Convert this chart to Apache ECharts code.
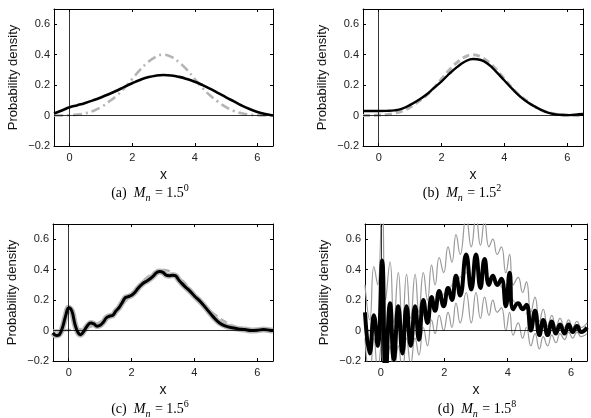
<!DOCTYPE html>
<html>
<head>
<meta charset="utf-8">
<script src="https://cdn.jsdelivr.net/npm/echarts@6/dist/echarts.min.js"></script>
<style>
  html, body { margin: 0; padding: 0; background: #fff; }
  #chart { width: 591px; height: 418px; }
</style>
</head>
<body>
<div id="chart"></div>
<script>
// tick labels
var xTicks = [0, 2, 4, 6]
var yTicks = [-0.2, 0, 0.2, 0.4, 0.6]

// shared x grid for the smooth panels (a) and (b)
var gridX = [-0.5, -0.25, 0, 0.25, 0.5, 0.75, 1, 1.25, 1.5, 1.75, 2, 2.25, 2.5, 2.75, 3,
  3.25, 3.5, 3.75, 4, 4.25, 4.5, 4.75, 5, 5.25, 5.5, 5.75, 6, 6.25, 6.5]
// true density (grey dashed)
var truth = [0, 0, 0.003, 0.006, 0.015, 0.03, 0.055, 0.09, 0.13, 0.18, 0.24, 0.3, 0.35, 0.385, 0.4,
  0.385, 0.35, 0.3, 0.24, 0.18, 0.13, 0.09, 0.055, 0.03, 0.015, 0.006, 0.003, 0, 0]
// (a) M_n = 1.5^0
var aFit = [0.014, 0.033, 0.054, 0.068, 0.083, 0.1, 0.119, 0.14, 0.163, 0.188, 0.212, 0.234, 0.251, 0.262, 0.266,
  0.263, 0.254, 0.24, 0.222, 0.2, 0.175, 0.148, 0.12, 0.093, 0.066, 0.043, 0.024, 0.01, 0]
// (b) M_n = 1.5^2
var bFit = [0.03, 0.03, 0.03, 0.031, 0.034, 0.045, 0.07, 0.1, 0.135, 0.18, 0.225, 0.275, 0.32, 0.355, 0.372,
  0.365, 0.335, 0.285, 0.23, 0.175, 0.125, 0.085, 0.055, 0.03, 0.013, 0.005, 0.003, 0.006, 0.01]
// (c) M_n = 1.5^6
var cX = [-0.5, -0.4, -0.3, -0.2, -0.1, 0, 0.1, 0.2, 0.3, 0.38, 0.5, 0.6, 0.7, 0.8, 0.9, 1.0, 1.1, 1.2, 1.3, 1.4,
  1.5, 1.6, 1.7, 1.8, 1.9, 2.0, 2.1, 2.2, 2.3, 2.4, 2.5, 2.6, 2.7, 2.8, 2.9, 3.0, 3.1, 3.2, 3.3, 3.4,
  3.5, 3.6, 3.7, 3.8, 3.9, 4.0, 4.2, 4.4, 4.6, 4.8, 5.0, 5.2, 5.4, 5.6, 5.8, 6.0, 6.2, 6.4, 6.5]
var cFit = [-0.015, -0.033, -0.027, 0.018, 0.095, 0.15, 0.128, 0.04, -0.015, -0.027, 0.002, 0.033, 0.05, 0.044, 0.029,
  0.035, 0.055, 0.084, 0.095, 0.1, 0.128, 0.15, 0.183, 0.216, 0.223, 0.232, 0.25, 0.276, 0.298, 0.316,
  0.327, 0.342, 0.36, 0.382, 0.388, 0.382, 0.364, 0.36, 0.364, 0.36, 0.333, 0.31, 0.289, 0.27, 0.25,
  0.227, 0.188, 0.139, 0.09, 0.05, 0.029, 0.018, 0.011, 0.007, 0, 0.002, 0.007, 0.002, 0]
// (d) M_n = 1.5^8, peaks and troughs of the oscillating estimate and its bounds
var dX = [-0.5, -0.35, -0.22, -0.1, 0.04, 0.15, 0.29, 0.41, 0.55, 0.68, 0.81, 0.94, 1.08, 1.2, 1.34, 1.47,
  1.6, 1.71, 1.84, 1.98, 2.12, 2.24, 2.37, 2.5, 2.69, 2.85, 3.0, 3.14, 3.27, 3.41, 3.53, 3.67, 3.8, 3.94,
  4.06, 4.17, 4.33, 4.47, 4.59, 4.73, 4.86, 5.0, 5.12, 5.26, 5.39, 5.52, 5.65, 5.79, 5.92, 6.05, 6.18, 6.32, 6.5]
var dFit = [0.12, -0.15, 0.1, -0.1, 0.46, -0.32, 0.18, -0.19, 0.16, -0.15, 0.16, -0.1, 0.16, -0.06, 0.2, 0.05,
  0.22, 0.13, 0.26, 0.16, 0.28, 0.2, 0.36, 0.23, 0.5, 0.27, 0.5, 0.28, 0.47, 0.3, 0.36, 0.3, 0.34, 0.16,
  0.38, 0.14, 0.18, 0.14, 0.17, 0, 0.13, -0.03, 0.07, -0.03, 0.06, -0.02, 0.04, -0.02, 0.04, -0.01, 0.03, -0.01, 0.02]
var dUpper = [0.3, 0.07, 0.42, 0.3, 0.9, 0.2, 0.45, 0.05, 0.38, 0.02, 0.37, 0.08, 0.37, 0.12, 0.38, 0.2,
  0.43, 0.3, 0.48, 0.38, 0.55, 0.45, 0.63, 0.5, 0.75, 0.55, 0.75, 0.56, 0.72, 0.55, 0.6, 0.5, 0.55, 0.38,
  0.5, 0.3, 0.35, 0.25, 0.32, 0.12, 0.22, 0.06, 0.14, 0.03, 0.1, 0.02, 0.08, 0.02, 0.07, 0.02, 0.06, 0.02, 0.05]
var dLower = [-0.05, -0.3, -0.05, -0.25, -0.05, -0.4, -0.1, -0.3, -0.1, -0.28, -0.05, -0.22, -0.05, -0.16, 0.02, -0.1,
  0.07, -0.02, 0.1, 0, 0.12, 0.02, 0.18, 0.05, 0.25, 0.05, 0.25, 0.08, 0.22, 0.1, 0.2, 0.12, 0.15, 0,
  0.12, -0.03, 0.05, -0.05, 0.02, -0.1, -0.02, -0.12, -0.04, -0.1, -0.03, -0.08, -0.02, -0.06, -0.01, -0.05, -0.01, -0.04, -0.02]

function pairs (xs, ys) {
  return xs.map(function (x, i) { return [x, ys[i]] })
}

var panels = [
  { rect: { left: 54, top: 9, width: 219, height: 137 }, cap: 'a', exp: '0', capX: 150, capY: 193 },
  { rect: { left: 363, top: 9, width: 220, height: 137 }, cap: 'b', exp: '2', capX: 462, capY: 193 },
  { rect: { left: 53, top: 224, width: 220, height: 137 }, cap: 'c', exp: '6', capX: 150, capY: 409 },
  { rect: { left: 365, top: 224, width: 222, height: 137 }, cap: 'd', exp: '8', capX: 477, capY: 409 }
]

var sans = 'Liberation Sans, Arial, sans-serif'
var serif = 'Liberation Serif, serif'
var axisColor = '#000'

var grids = []
var xAxes = []
var yAxes = []
var graphics = []

panels.forEach(function (p, i) {
  grids.push(Object.assign({ containLabel: false }, p.rect))
  // bottom x axis with labels
  xAxes.push({
    type: 'value', gridIndex: i, position: 'bottom', min: -0.5, max: 6.5,
    name: 'x', nameLocation: 'middle', nameGap: 22,
    nameTextStyle: { fontFamily: sans, fontSize: 14, color: '#111' },
    axisLine: { onZero: false, lineStyle: { color: axisColor, width: 1 } },
    axisTick: { inside: true, length: 3, customValues: xTicks, lineStyle: { color: axisColor } },
    axisLabel: { customValues: xTicks, margin: 6, fontFamily: sans, fontSize: 11, color: '#222' },
    splitLine: { show: false }
  })
  // top x axis: box edge with ticks only
  xAxes.push({
    type: 'value', gridIndex: i, position: 'top', min: -0.5, max: 6.5,
    axisLine: { onZero: false, lineStyle: { color: axisColor, width: 1 } },
    axisTick: { inside: true, length: 3, customValues: xTicks, lineStyle: { color: axisColor } },
    axisLabel: { show: false },
    splitLine: { show: false }
  })
  yAxes.push({
    type: 'value', gridIndex: i, position: 'left', min: -0.2, max: 0.7,
    name: 'Probability density', nameLocation: 'middle', nameRotate: 90, nameGap: 34,
    nameTextStyle: { fontFamily: sans, fontSize: 13, color: '#111' },
    axisLine: { onZero: false, lineStyle: { color: axisColor, width: 1 } },
    axisTick: { inside: true, length: 3, customValues: yTicks, lineStyle: { color: axisColor } },
    axisLabel: {
      customValues: yTicks, margin: 4, fontFamily: sans, fontSize: 11, color: '#222',
      formatter: function (v) { return String(v).replace('-', '\u2212') }
    },
    splitLine: { show: false }
  })
  yAxes.push({
    type: 'value', gridIndex: i, position: 'right', min: -0.2, max: 0.7,
    axisLine: { onZero: false, lineStyle: { color: axisColor, width: 1 } },
    axisTick: { inside: true, length: 3, customValues: yTicks, lineStyle: { color: axisColor } },
    axisLabel: { show: false },
    splitLine: { show: false }
  })
  graphics.push({
    type: 'text', x: p.capX, y: p.capY,
    style: {
      text: '{n|(' + p.cap + ')  }{i|M}{s|n}{n| = 1.5}{p|' + p.exp + '}',
      align: 'center', verticalAlign: 'middle',
      rich: {
        n: { fontFamily: serif, fontSize: 14, color: '#111', lineHeight: 20, verticalAlign: 'middle' },
        i: { fontFamily: serif, fontStyle: 'italic', fontSize: 14, color: '#111', lineHeight: 20, verticalAlign: 'middle' },
        s: { fontFamily: serif, fontStyle: 'italic', fontSize: 10, color: '#111', lineHeight: 20, verticalAlign: 'bottom', padding: [0, 1, 0, 0] },
        p: { fontFamily: serif, fontSize: 10, color: '#111', lineHeight: 20, verticalAlign: 'top' }
      }
    }
  })
})

// thin reference lines at x = 0 and y = 0
function zeroLines () {
  return {
    silent: true, symbol: ['none', 'none'], label: { show: false }, animation: false,
    lineStyle: { color: '#000', width: 0.8, type: 'solid' },
    data: [{ xAxis: 0 }, { yAxis: 0 }]
  }
}

function line (panel, data, style, extra) {
  return Object.assign({
    type: 'line', xAxisIndex: panel * 2, yAxisIndex: panel * 2,
    data: data, showSymbol: false, symbol: 'none', smooth: true, animation: false,
    lineStyle: style
  }, extra || {})
}

var series = [
  // (a)
  line(0, pairs(gridX, truth), { color: '#b4b4b4', width: 2.6, type: [9, 4, 2, 4] }, { markLine: zeroLines(), z: 2 }),
  line(0, pairs(gridX, aFit), { color: '#000', width: 2.6 }, { z: 3 }),
  // (b)
  line(1, pairs(gridX, truth), { color: '#b4b4b4', width: 3, type: [7, 4] }, { markLine: zeroLines(), z: 2 }),
  line(1, pairs(gridX, bFit), { color: '#000', width: 2.4 }, { z: 3 }),
  // (c)
  line(2, pairs(gridX, truth), { color: '#b4b4b4', width: 2.5, type: [7, 4] }, { markLine: zeroLines(), z: 2 }),
  line(2, pairs(cX, cFit), { color: '#b8b8b8', width: 6 }, { smooth: 0.4, z: 3 }),
  line(2, pairs(cX, cFit), { color: '#000', width: 3 }, { smooth: 0.4, z: 4 }),
  // (d)
  line(3, pairs(gridX, truth), { color: '#c8c8c8', width: 2, type: [6, 4] }, { markLine: zeroLines(), z: 2 }),
  line(3, pairs(dX, dUpper), { color: '#9a9a9a', width: 1.2 }, { smooth: 0.5, z: 3 }),
  line(3, pairs(dX, dLower), { color: '#9a9a9a', width: 1.2 }, { smooth: 0.5, z: 3 }),
  line(3, pairs(dX, dFit), { color: '#000', width: 4 }, { smooth: 0.5, z: 4 })
]

var chart = echarts.init(document.getElementById('chart'), null, { renderer: 'canvas' })
chart.setOption({
  animation: false,
  backgroundColor: '#fff',
  grid: grids,
  xAxis: xAxes,
  yAxis: yAxes,
  series: series,
  graphic: graphics
})
window.addEventListener('resize', function () {
  chart.resize()
})
</script>
</body>
</html>
